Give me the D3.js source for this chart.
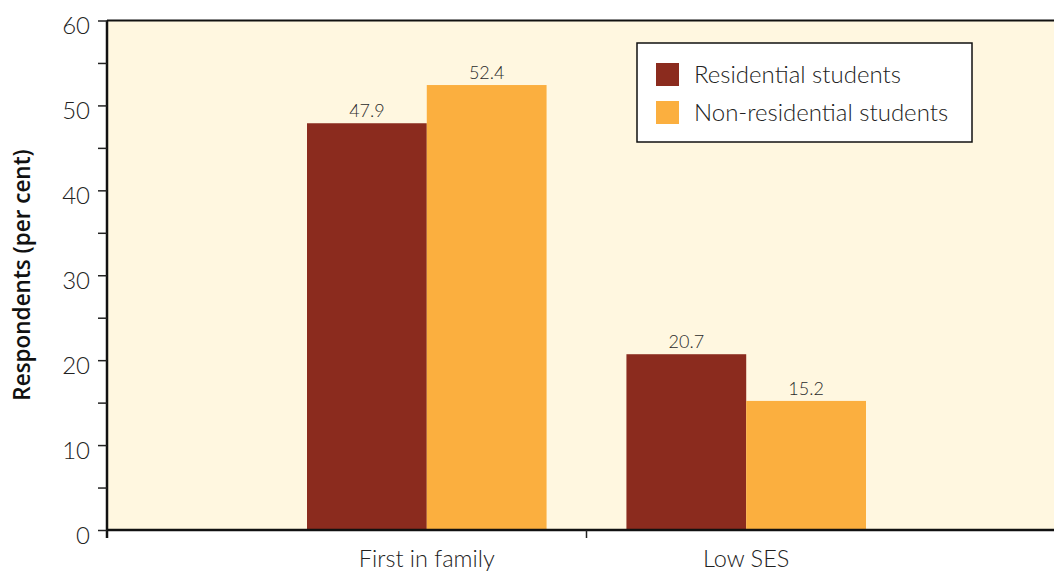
<!DOCTYPE html>
<html lang="en">
<head>
<meta charset="UTF-8">
<title>Residential vs non-residential students</title>
<script src="https://d3js.org/d3.v7.min.js"></script>
<style>
  body { margin: 0; background: #fff; }
  svg text { fill: #222; }
  .tick-label { font-family: Lato, sans-serif; font-weight: 300; }
</style>
</head>
<body>
<svg width="1054" height="573"></svg>
<script>
// data
var categories = ["First in family", "Low SES"];
var seriesNames = ["Residential students", "Non-residential students"];
var residential = [47.9, 20.7];
var nonResidential = [52.4, 15.2];
var yTicks = [0, 10, 20, 30, 40, 50, 60];
var colors = ["#8b2b1e", "#fbaf3f"];

var svg = d3.select("svg");
var plotLeft = 107, plotRight = 1054, plotTop = 20.5, plotBottom = 530;

var y = d3.scaleLinear().domain([0, 60]).range([plotBottom, plotTop]);
var x0 = d3.scaleBand().domain(categories).range([307, 866]).paddingInner(0.25);
var x1 = d3.scaleBand().domain(seriesNames).range([0, x0.bandwidth()]);

// plot background
svg.append("rect")
    .attr("x", plotLeft).attr("y", plotTop)
    .attr("width", plotRight - plotLeft).attr("height", plotBottom - plotTop)
    .attr("fill", "#fff7e0");

// bars
var groups = svg.append("g").selectAll("g")
    .data(categories)
    .enter().append("g")
    .attr("transform", function(d) { return "translate(" + x0(d) + ",0)"; });

function rows(d, i) {
    return [
        { s: seriesNames[0], v: residential[i], c: 0 },
        { s: seriesNames[1], v: nonResidential[i], c: 1 }
    ];
}

groups.selectAll("rect")
    .data(rows)
    .enter().append("rect")
    .attr("x", function(d) { return x1(d.s); })
    .attr("y", function(d) { return y(d.v); })
    .attr("width", x1.bandwidth())
    .attr("height", function(d) { return plotBottom - y(d.v); })
    .attr("fill", function(d) { return colors[d.c]; });

groups.selectAll("text")
    .data(rows)
    .enter().append("text")
    .attr("class", "tick-label")
    .attr("x", function(d) { return x1(d.s) + x1.bandwidth() / 2; })
    .attr("y", function(d) { return y(d.v) - 6; })
    .attr("text-anchor", "middle")
    .style("font-size", "18px")
    .style("fill", "#2a2a2a")
    .text(function(d) { return d.v.toFixed(1); });

// top border
svg.append("line")
    .attr("x1", plotLeft).attr("x2", plotRight)
    .attr("y1", plotTop).attr("y2", plotTop)
    .attr("stroke", "#111").attr("stroke-width", 2);

// y axis
var yAxis = d3.axisLeft(y)
    .tickValues(d3.range(0, 61, 5))
    .tickSize(9)
    .tickFormat(function(d) { return yTicks.indexOf(d) >= 0 ? d : ""; });

var yg = svg.append("g")
    .attr("transform", "translate(" + plotLeft + ",0)")
    .call(yAxis);
yg.select(".domain").attr("stroke", "#111").attr("stroke-width", 2.5)
    .attr("d", "M0," + plotTop + "V" + (plotBottom + 8));
yg.selectAll(".tick line").attr("stroke", "#222").attr("stroke-width", 1.5);
yg.selectAll(".tick text")
    .attr("class", "tick-label")
    .attr("x", -17)
    .attr("dy", "0.55em")
    .style("font-size", "24px")
    .style("fill", "#222");

// x axis
var xg = svg.append("g").attr("transform", "translate(0," + plotBottom + ")");
xg.append("line")
    .attr("x1", plotLeft).attr("x2", plotRight)
    .attr("y1", 0).attr("y2", 0)
    .attr("stroke", "#111").attr("stroke-width", 2.5);
var mid = (x0(categories[0]) + x0.bandwidth() + x0(categories[1])) / 2;
xg.append("line")
    .attr("x1", mid).attr("x2", mid)
    .attr("y1", 0).attr("y2", 8)
    .attr("stroke", "#222").attr("stroke-width", 1.5);
xg.selectAll("text.cat")
    .data(categories)
    .enter().append("text")
    .attr("class", "tick-label")
    .attr("x", function(d) { return x0(d) + x0.bandwidth() / 2; })
    .attr("y", 37)
    .attr("text-anchor", "middle")
    .style("font-size", "23.5px")
    .text(function(d) { return d; });

// y title
svg.append("text")
    .attr("transform", "translate(30,275) rotate(-90)")
    .attr("text-anchor", "middle")
    .style("font-family", "'Open Sans', sans-serif")
    .style("font-weight", 600)
    .style("font-size", "22.5px")
    .style("fill", "#111")
    .text("Respondents (per cent)");

// legend
var legend = svg.append("g").attr("transform", "translate(637,43)");
legend.append("rect")
    .attr("width", 335).attr("height", 99)
    .attr("fill", "#fff").attr("stroke", "#111").attr("stroke-width", 1.5);
var item = legend.selectAll("g.item")
    .data(seriesNames)
    .enter().append("g")
    .attr("transform", function(d, i) { return "translate(19," + (20 + i * 38) + ")"; });
item.append("rect")
    .attr("width", 23).attr("height", 23)
    .attr("fill", function(d, i) { return colors[i]; });
item.append("text")
    .attr("class", "tick-label")
    .attr("x", 38).attr("y", 20)
    .style("font-size", "24px")
    .text(function(d) { return d; });
</script>
</body>
</html>
